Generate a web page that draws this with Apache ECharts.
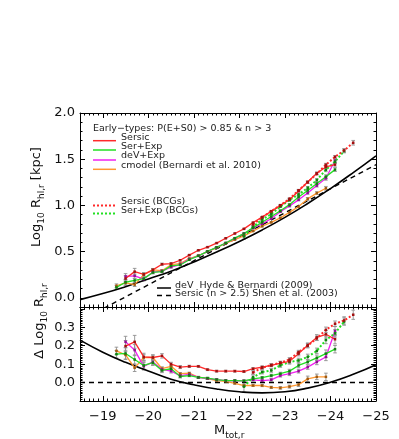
<!DOCTYPE html>
<html><head><meta charset="utf-8">
<script src="https://cdn.jsdelivr.net/npm/echarts@6/dist/echarts.min.js"></script>
<style>html,body{margin:0;padding:0;background:#fff}#c{width:399px;height:439px}</style>
</head><body><div id="c"></div>
<script>
// ---- data ----
const xTicks = [-19,-20,-21,-22,-23,-24,-25];
const xTickLabels = ['\u221219','\u221220','\u221221','\u221222','\u221223','\u221224','\u221225'];
const yTopTicks = [0,0.5,1,1.5,2];
const yTopLabels = ['0.0','0.5','1.0','1.5','2.0'];
const yBotTicks = [0,0.1,0.2,0.3];
const yBotLabels = ['0.0','0.1','0.2','0.3'];

const mSer = [-19.5,-19.7,-19.9,-20.1,-20.3,-20.5,-20.7,-20.9,-21.1,-21.3,-21.5,-21.7,-21.9,-22.1,-22.3,-22.5,-22.7,-22.9,-23.1,-23.3,-23.5,-23.7,-23.9,-24.1];
const serTop = [0.208,0.283,0.253,0.302,0.363,0.370,0.406,0.462,0.514,0.548,0.592,0.644,0.696,0.746,0.813,0.874,0.935,1.000,1.061,1.155,1.253,1.347,1.416,1.441];
const serDelta = [0.198,0.221,0.139,0.136,0.145,0.100,0.084,0.088,0.088,0.070,0.062,0.062,0.062,0.060,0.075,0.084,0.093,0.106,0.115,0.157,0.203,0.245,0.262,0.235];
const serErr = [0.03,0.035,0.02,0.015,0.012,0.01,0.008,0.006,0.005,0.005,0.005,0.005,0.005,0.005,0.006,0.006,0.007,0.008,0.01,0.012,0.012,0.015,0.02,0.025];

const mSE = [-19.3,-19.5,-19.7,-19.9,-20.1,-20.3,-20.5,-20.7,-20.9,-21.1,-21.3,-21.5,-21.7,-21.9,-22.1,-22.3,-22.5,-22.7,-22.9,-23.1,-23.3,-23.5,-23.7,-23.9,-24.1];
const seTop = [0.112,0.168,0.187,0.207,0.274,0.284,0.345,0.355,0.412,0.454,0.502,0.546,0.593,0.645,0.695,0.758,0.817,0.880,0.942,1.008,1.091,1.162,1.236,1.311,1.387];
const seDelta = [0.154,0.158,0.125,0.093,0.108,0.066,0.075,0.033,0.038,0.028,0.024,0.016,0.011,0.011,0.009,0.020,0.027,0.038,0.048,0.062,0.093,0.112,0.134,0.157,0.181];
const seErr = [0.02,0.03,0.025,0.02,0.015,0.012,0.01,0.008,0.006,0.005,0.005,0.005,0.005,0.005,0.005,0.006,0.006,0.007,0.008,0.01,0.012,0.012,0.015,0.02,0.02];

const mDE = [-19.5,-19.7,-19.9,-20.1,-20.3,-20.5,-20.7,-20.9,-21.1,-21.3,-21.5,-21.7,-21.9,-22.1,-22.3,-22.5,-22.7,-22.9,-23.1,-23.3,-23.5,-23.7,-23.9,-24.1];
const deTop = [0.231,0.238,0.202,0.278,0.289,0.332,0.360,0.418,0.454,0.500,0.546,0.593,0.643,0.695,0.753,0.801,0.857,0.932,0.994,1.060,1.134,1.214,1.293,1.486];
const deDelta = [0.221,0.176,0.088,0.112,0.071,0.062,0.038,0.044,0.028,0.022,0.016,0.011,0.009,0.009,0.015,0.011,0.015,0.038,0.048,0.062,0.084,0.112,0.139,0.280];
const deErr = [0.03,0.03,0.02,0.015,0.012,0.01,0.008,0.006,0.005,0.005,0.005,0.005,0.005,0.005,0.006,0.006,0.007,0.008,0.01,0.01,0.012,0.015,0.02,0.025];

const mCM = [-19.3,-19.5,-19.7,-19.9,-20.1,-20.3,-20.5,-20.7,-20.9,-21.1,-21.3,-21.5,-21.7,-21.9,-22.1,-22.3,-22.5,-22.7,-22.9,-23.1,-23.3,-23.5,-23.7,-23.9];
const cmTop = [0.130,0.160,0.142,0.250,0.302,0.293,0.358,0.370,0.425,0.455,0.500,0.541,0.589,0.630,0.670,0.722,0.774,0.816,0.865,0.924,0.987,1.070,1.133,1.185];
const cmDelta = [0.172,0.150,0.080,0.136,0.136,0.075,0.088,0.048,0.051,0.029,0.022,0.011,0.007,-0.004,-0.016,-0.016,-0.016,-0.026,-0.029,-0.022,-0.011,0.020,0.031,0.031];
const cmErr = [0.02,0.025,0.02,0.015,0.012,0.01,0.008,0.006,0.005,0.005,0.005,0.005,0.005,0.005,0.005,0.005,0.006,0.006,0.007,0.008,0.01,0.015,0.015,0.02];

const mSerB = [-22.3,-22.5,-22.7,-22.9,-23.1,-23.3,-23.5,-23.7,-23.9,-24.1,-24.3,-24.5];
const serBTop = [0.793,0.870,0.937,1.002,1.071,1.163,1.250,1.342,1.440,1.525,1.595,1.678];
const serBDelta = [0.055,0.080,0.095,0.108,0.125,0.165,0.200,0.240,0.286,0.319,0.337,0.368];
const serBErr = [0.01,0.008,0.008,0.008,0.01,0.01,0.012,0.012,0.015,0.015,0.02,0.025];

const mSEB = [-22.1,-22.3,-22.5,-22.7,-22.9,-23.1,-23.3,-23.5,-23.7,-23.9,-24.1,-24.3];
const seBTop = [0.664,0.767,0.847,0.908,0.987,1.058,1.118,1.189,1.274,1.385,1.473,1.589];
const seBDelta = [-0.022,0.029,0.057,0.066,0.093,0.112,0.120,0.139,0.172,0.231,0.267,0.331];
const seBErr = [0.03,0.012,0.01,0.01,0.01,0.012,0.012,0.015,0.015,0.02,0.02,0.02];

const mHB = [-18.5,-19,-19.5,-20,-20.5,-21,-21.5,-22,-22.5,-23,-23.5,-24,-24.5,-25];
const hbTop = [-0.02,0.045,0.12,0.203,0.288,0.388,0.495,0.61,0.734,0.87,1.02,1.182,1.355,1.537];
const hbDelta = [0.23,0.165,0.11,0.063,0.018,-0.012,-0.035,-0.05,-0.056,-0.05,-0.03,0.002,0.045,0.097];

const mShen = [-18.5,-25];
const shenTop = [-0.25,1.44];
const shenDelta = [0,0];

// ---- styles ----
const FONT = 'DejaVu Sans';
const C = {ser:'#ff2a2a', se:'#22e022', de:'#f020f0', cm:'#ff9830'};
const ERRC = '#909090';

function pairs(m, v){ return m.map((x,i)=>[x, v[i]]); }

function xAxes(grid, withLabels){
  const base = {type:'value', gridIndex:grid, min:-25, max:-18.5, inverse:true, splitLine:{show:false}};
  const lineC = {onZero:false, lineStyle:{color:'#000', width:1}};
  return [
    Object.assign({}, base, {position:'bottom', axisLine:Object.assign({show:true},lineC),
      axisTick:{show:true, inside:true, length:5, customValues:xTicks, lineStyle:{color:'#000'}},
      axisLabel:{show:withLabels, customValues:xTicks, margin:9, color:'#111', fontSize:13, fontFamily:FONT,
        formatter:(v)=>{const i=xTicks.indexOf(v); return i>=0?xTickLabels[i]:'';}}}),
    Object.assign({}, base, {position:'bottom', interval:0.1, axisLine:{show:false, onZero:false},
      axisTick:{show:true, inside:true, length:2.5, lineStyle:{color:'#000'}}, axisLabel:{show:false}}),
    Object.assign({}, base, {position:'top', axisLine:Object.assign({show:true},lineC),
      axisTick:{show:true, inside:true, length:5, customValues:xTicks, lineStyle:{color:'#000'}}, axisLabel:{show:false}}),
    Object.assign({}, base, {position:'top', interval:0.1, axisLine:{show:false, onZero:false},
      axisTick:{show:true, inside:true, length:2.5, lineStyle:{color:'#000'}}, axisLabel:{show:false}})
  ];
}
function yAxes(grid, min, max, majors, minorInt, labVals, labStr){
  const base = {type:'value', gridIndex:grid, min:min, max:max, splitLine:{show:false}};
  const lineC = {onZero:false, lineStyle:{color:'#000', width:1}};
  return [
    Object.assign({}, base, {position:'left', axisLine:Object.assign({show:true},lineC),
      axisTick:{show:true, inside:true, length:5, customValues:majors, lineStyle:{color:'#000'}},
      axisLabel:{show:true, customValues:labVals, margin:5, color:'#111', fontSize:13, fontFamily:FONT,
        formatter:(v)=>{let i=-1; labVals.forEach((t,k)=>{if(Math.abs(t-v)<1e-6)i=k;}); return i>=0?labStr[i]:'';}}}),
    Object.assign({}, base, {position:'left', interval:minorInt, axisLine:{show:false, onZero:false},
      axisTick:{show:true, inside:true, length:2.5, lineStyle:{color:'#000'}}, axisLabel:{show:false}}),
    Object.assign({}, base, {position:'right', axisLine:Object.assign({show:true},lineC),
      axisTick:{show:true, inside:true, length:5, customValues:majors, lineStyle:{color:'#000'}}, axisLabel:{show:false}}),
    Object.assign({}, base, {position:'right', interval:minorInt, axisLine:{show:false, onZero:false},
      axisTick:{show:true, inside:true, length:2.5, lineStyle:{color:'#000'}}, axisLabel:{show:false}})
  ];
}

function lineS(xi, yi, m, v, color, opts){
  opts = opts || {};
  return {type:'line', xAxisIndex:xi, yAxisIndex:yi, data:pairs(m,v), z:3,
    symbol: opts.noSym ? 'none' : 'rect', symbolSize:2.5, showSymbol: !opts.noSym,
    smooth: !!opts.smooth, animation:false, clip:true,
    itemStyle:{color: opts.symColor || color},
    lineStyle:{color:color, width: opts.width || 1.3, type: opts.dash || 'solid'}};
}
function errS(xi, yi, m, v, e){
  return {type:'custom', xAxisIndex:xi, yAxisIndex:yi, z:2, animation:false, clip:true,
    encode:{x:0, y:1},
    data: m.map((x,i)=>[x, v[i], e[i]]),
    renderItem:function(params, api){
      const x=api.value(0), y=api.value(1), er=api.value(2);
      const p1=api.coord([x,y+er]), p2=api.coord([x,y-er]); const w=1.8;
      const st={stroke:ERRC, lineWidth:0.9};
      return {type:'group', children:[
        {type:'line', shape:{x1:p1[0],y1:p1[1],x2:p2[0],y2:p2[1]}, style:st},
        {type:'line', shape:{x1:p1[0]-w,y1:p1[1],x2:p1[0]+w,y2:p1[1]}, style:st},
        {type:'line', shape:{x1:p2[0]-w,y1:p2[1],x2:p2[0]+w,y2:p2[1]}, style:st}
      ]};
    }};
}

const series = [];
[[0,0,'top'],[4,4,'delta']].forEach(([xi,yi,k])=>{
  const T = k==='top';
  series.push(lineS(xi,yi,mHB, T?hbTop:hbDelta, '#000', {noSym:true, smooth:true, width:1.6}));
  series.push(lineS(xi,yi,mShen, T?shenTop:shenDelta, '#000', {noSym:true, width:1.4, dash:[5,4]}));
  series.push(errS(xi,yi,mSer, T?serTop:serDelta, serErr));
  series.push(errS(xi,yi,mSE, T?seTop:seDelta, seErr));
  series.push(errS(xi,yi,mDE, T?deTop:deDelta, deErr));
  series.push(errS(xi,yi,mCM, T?cmTop:cmDelta, cmErr));
  series.push(errS(xi,yi,mSerB, T?serBTop:serBDelta, serBErr));
  series.push(errS(xi,yi,mSEB, T?seBTop:seBDelta, seBErr));
  series.push(lineS(xi,yi,mCM, T?cmTop:cmDelta, C.cm, {symColor:'#a05a10'}));
  series.push(lineS(xi,yi,mDE, T?deTop:deDelta, C.de, {symColor:'#901090'}));
  series.push(lineS(xi,yi,mSE, T?seTop:seDelta, C.se, {symColor:'#108010'}));
  series.push(lineS(xi,yi,mSEB, T?seBTop:seBDelta, C.se, {symColor:'#108010', dash:[2,2], width:2}));
  series.push(lineS(xi,yi,mSerB, T?serBTop:serBDelta, C.ser, {symColor:'#a01010', dash:[2,2], width:2}));
  series.push(lineS(xi,yi,mSer, T?serTop:serDelta, C.ser, {symColor:'#a01010'}));
});

const TXT = {fill:'#222', fontSize:9.5, fontFamily:FONT};
function t(x,y,s){ return {type:'text', x:x, y:y, style:Object.assign({text:s, verticalAlign:'middle', align:'left'}, TXT), z:10}; }
function ln(x1,x2,y,color,dash,w){ return {type:'line', shape:{x1:x1,y1:y,x2:x2,y2:y}, style:{stroke:color, lineWidth:w||1.5, lineDash:dash||null}, z:10}; }

const rich = {n:{fontSize:13, fontFamily:FONT, fill:'#111', lineHeight:18},
              s:{fontSize:9, fontFamily:FONT, fill:'#111', lineHeight:9, verticalAlign:'bottom'}};

const graphic = [
  t(93,129,'Early\u2212types: P(E+S0) > 0.85 & n > 3'),
  ln(93,116,140.7,C.ser), t(121,138,'Sersic'),
  ln(93,116,150,C.se), t(121,147,'Ser+Exp'),
  ln(93,116,160,C.de), t(121,156,'deV+Exp'),
  ln(93,116,169.3,C.cm), t(121,165.5,'cmodel (Bernardi et al. 2010)'),
  ln(93,117,205.5,C.ser,[2,2],2), t(121,202,'Sersic (BCGs)'),
  ln(93,117,213.5,C.se,[2,2],2), t(121,210.5,'Ser+Exp (BCGs)'),
  ln(157,171,288,'#000'), t(175,286,'deV  Hyde & Bernardi (2009)'),
  ln(157,171,295.5,'#000',[5,4]), t(175,293.5,'Sersic (n > 2.5) Shen et al. (2003)'),
  {type:'text', x:37, y:197, rotation:Math.PI/2, z:10,
   style:{text:'{n|Log}{s|10}{n| R}{s|hl,r}{n| [kpc]}', rich:rich, align:'center', verticalAlign:'middle'}},
  {type:'text', x:40, y:321, rotation:Math.PI/2, z:10,
   style:{text:'{n|\u0394 Log}{s|10}{n| R}{s|hl,r}', rich:rich, align:'center', verticalAlign:'middle'}},
  {type:'text', x:214, y:431, z:10,
   style:{text:'{n|M}{s|tot,r}', rich:rich, align:'left', verticalAlign:'middle'}}
];

const chart = echarts.init(document.getElementById('c'), null, {renderer:'canvas'});
chart.setOption({
  animation:false,
  backgroundColor:'#fff',
  grid:[{left:80, top:113, width:296, height:194}, {left:80, top:307, width:296, height:94}],
  xAxis: xAxes(0,false).concat(xAxes(1,true)),
  yAxis: yAxes(0,-0.1,2.0,[0,0.5,1,1.5,2],0.1,yTopTicks,yTopLabels)
          .concat(yAxes(1,-0.1,0.41,[-0.1,0,0.1,0.2,0.3,0.4],0.01,yBotTicks,yBotLabels)),
  series: series,
  graphic: graphic
});
</script>
</body></html>
